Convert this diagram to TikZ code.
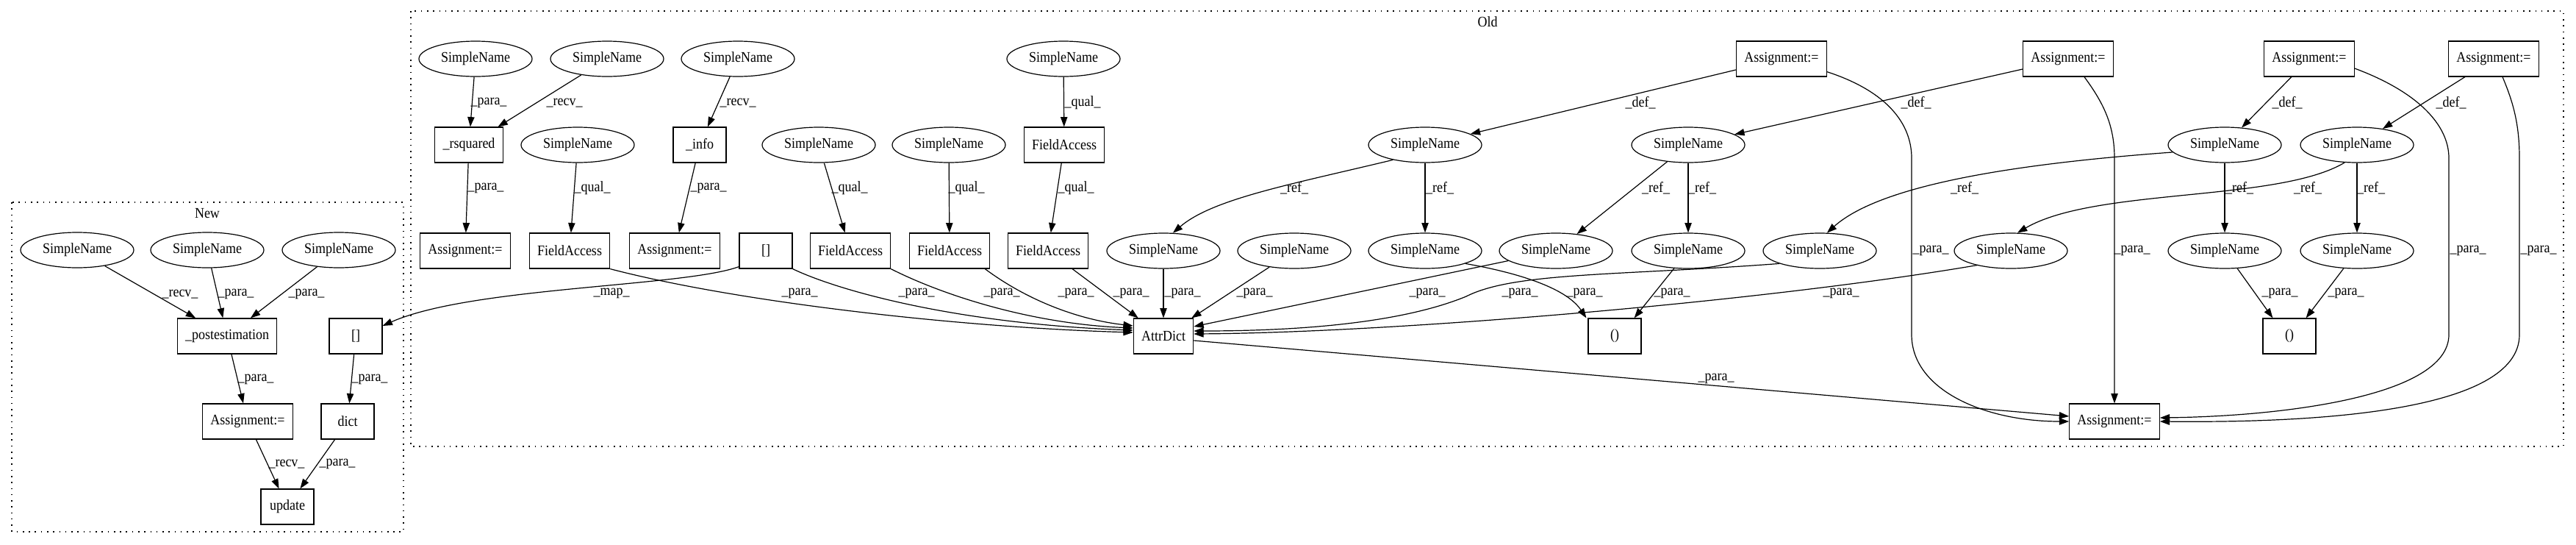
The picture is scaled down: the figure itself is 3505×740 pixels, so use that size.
\documentclass[tikz,border=0pt]{standalone}
\usepackage{fontspec}
\setmainfont{Liberation Serif}[FakeStretch=0.9]
\usetikzlibrary{shapes.geometric,arrows.meta,calc}
\begin{document}
\begin{tikzpicture}[x=0.75pt,y=-0.75pt,font=\fontsize{15}{17}\selectfont,
  sn/.style={ellipse,draw,line width=0.9pt,minimum width=115.5pt,minimum height=36pt,inner sep=0pt},
  bx/.style={rectangle,draw,line width=0.9pt,minimum width=54pt,minimum height=36pt,inner xsep=8pt,inner ysep=0pt},
  e/.style={draw,line width=0.9pt,-{Triangle[length=10pt,width=7pt]}},
  lb/.style={inner sep=0pt},
  cl/.style={draw,line width=1pt,dash pattern=on 1.2pt off 5pt}]
\useasboundingbox (0,0) rectangle (3505,740);
% clusters
\draw[cl] (16,275) rectangle (549,723);
\node[lb] (newlbl) at (282,290) {New};
\draw[cl] (559,15) rectangle (3488,607);
\node[lb] (oldlbl) at (2024,30) {Old};
% ---------- New ----------
\node[sn] (n_s1) at (105,340) {SimpleName};
\node[sn] (n_s2) at (282,340) {SimpleName};
\node[sn] (n_s3) at (461,340) {SimpleName};
\node[bx] (n_post) at (309,457) {\_postestimation};
\node[bx] (n_br) at (484,457) {[]};
\node[bx] (n_as) at (337,573) {Assignment:=};
\node[bx] (n_dict) at (473,573) {dict};
\node[bx] (n_upd) at (391,689) {update};
\draw[e] (n_s1) -- (n_post) node[lb,at={(245,400)}] (nl1) {\_recv\_};
\draw[e] (n_s2) -- (n_post) node[lb,at={(321,400)}] (nl2) {\_para\_};
\draw[e] (n_s3) -- (n_post) node[lb,at={(417,400)}] (nl3) {\_para\_};
\draw[e] (n_post) -- (n_as) node[lb,at={(348,516)}] (nl4) {\_para\_};
\draw[e] (n_br) -- (n_dict) node[lb,at={(503,516)}] (nl5) {\_para\_};
\draw[e] (n_as) -- (n_upd) node[lb,at={(390,631)}] (nl6) {\_recv\_};
\draw[e] (n_dict) -- (n_upd) node[lb,at={(459,631)}] (nl7) {\_para\_};
% ---------- Old nodes ----------
% row 1
\node[sn] (o_sa) at (647,80) {SimpleName};
\node[sn] (o_sb) at (826,80) {SimpleName};
\node[sn] (o_sc) at (1004,80) {SimpleName};
\node[sn] (o_sd) at (1447,80) {SimpleName};
\node[bx] (A1) at (2424,80) {Assignment:=};
\node[bx] (A2) at (2814,80) {Assignment:=};
\node[bx] (A3) at (3142,80) {Assignment:=};
\node[bx] (A4) at (3393,80) {Assignment:=};
% row 2
\node[bx] (o_rsq) at (638,197) {\_rsquared};
\node[sn] (o_se) at (786,197) {SimpleName};
\node[bx] (o_info) at (952,197) {\_info};
\node[sn] (o_sf) at (1114,197) {SimpleName};
\node[sn] (o_sg) at (1291,197) {SimpleName};
\node[bx] (o_fa0) at (1448,197) {FieldAccess};
\node[sn] (o_r1) at (1939,197) {SimpleName};
\node[sn] (o_r2) at (2297,197) {SimpleName};
\node[sn] (o_r3) at (3027,197) {SimpleName};
\node[sn] (o_r4) at (3207,197) {SimpleName};
% row 3
\node[bx] (o_as1) at (633,341) {Assignment:=};
\node[bx] (o_fa1) at (775,341) {FieldAccess};
\node[bx] (o_as2) at (918,341) {Assignment:=};
\node[bx] (o_br) at (1042,341) {[]};
\node[bx] (o_fa2) at (1157,341) {FieldAccess};
\node[bx] (o_fa3) at (1292,341) {FieldAccess};
\node[bx] (o_fa4) at (1426,341) {FieldAccess};
\node[sn] (o_t1) at (1583,341) {SimpleName};
\node[sn] (o_t2) at (1761,341) {SimpleName};
\node[sn] (o_t3) at (1939,341) {SimpleName};
\node[sn] (o_t4) at (2117,341) {SimpleName};
\node[sn] (o_t5) at (2297,341) {SimpleName};
\node[sn] (o_t6) at (2476,341) {SimpleName};
\node[sn] (o_t7) at (2736,341) {SimpleName};
\node[sn] (o_t8) at (3027,341) {SimpleName};
\node[sn] (o_t9) at (3207,341) {SimpleName};
% row 4/5
\node[bx] (o_ad) at (1583,457) {AttrDict};
\node[bx] (o_p1) at (2197,457) {()};
\node[bx] (o_p2) at (3115,457) {()};
\node[bx] (o_fin) at (2877,573) {Assignment:=};
% ---------- Old edges ----------
\draw[e] (o_sa) -- (o_rsq) node[lb,at={(665,140)}] (ol1) {\_para\_};
\draw[e] (o_sb) -- (o_rsq) node[lb,at={(768,140)}] (ol2) {\_recv\_};
\draw[e] (o_sc) -- (o_info) node[lb,at={(1004,140)}] (ol3) {\_recv\_};
\draw[e] (o_rsq) -- (o_as1) node[lb,at={(661,256)}] (ol4) {\_para\_};
\draw[e] (o_se) -- (o_fa1) node[lb,at={(806,256)}] (ol5) {\_qual\_};
\draw[e] (o_info) -- (o_as2) node[lb,at={(964,256)}] (ol6) {\_para\_};
\draw[e] (o_sf) -- (o_fa2) node[lb,at={(1156,256)}] (ol7) {\_qual\_};
\draw[e] (o_sd) -- (o_fa0) node[lb,at={(1473,140)}] (ol8) {\_qual\_};
\draw[e] (o_sg) -- (o_fa3) node[lb,at={(1315,256)}] (ol9) {\_qual\_};
\draw[e] (o_fa0) -- (o_fa4) node[lb,at={(1464,256)}] (ol10) {\_qual\_};
\draw[e] (A1) -- (o_r1) node[lb,at={(2232,140)}] (ol11) {\_def\_};
\draw[e] (A2) -- (o_r2) node[lb,at={(2607,140)}] (ol12) {\_def\_};
\draw[e] (A3) -- (o_r3) node[lb,at={(3112,140)}] (ol13) {\_def\_};
\draw[e] (A4) -- (o_r4) node[lb,at={(3335,140)}] (ol14) {\_def\_};
\draw[e] (o_r1.205) .. controls (1760,250) and (1650,270) .. (o_t1.62) node[lb,at={(1761,256)}] (ol15) {\_ref\_};
\draw[e] (o_r1) -- (o_t3) node[lb,at={(1959,256)}] (ol16) {\_ref\_};
\draw[e] (o_r2) -- (o_t4) node[lb,at={(2253,256)}] (ol17) {\_ref\_};
\draw[e] (o_r2) -- (o_t5) node[lb,at={(2316,256)}] (ol18) {\_ref\_};
\draw[e] (o_r3.188) .. controls (2750,222) and (2560,250) .. (o_t6.68) node[lb,at={(2673,256)}] (ol19) {\_ref\_};
\draw[e] (o_r3) -- (o_t8) node[lb,at={(3047,256)}] (ol20) {\_ref\_};
\draw[e] (o_r4.235) .. controls (3100,275) and (2850,255) .. (o_t7.70) node[lb,at={(3140,256)}] (ol21) {\_ref\_};
\draw[e] (o_r4) -- (o_t9) node[lb,at={(3226,256)}] (ol22) {\_ref\_};
% into final assignment
\draw[e] ($(A1.south east)+(0,-7)$) .. controls (2570,125) and (2601,170) .. (2601,215) -- (2601,455) .. controls (2601,530) and (2700,573) .. (o_fin.west) node[lb,at={(2627,341)}] (ol23) {\_para\_};
\draw[e] ($(A2.south)+(22,0)$) .. controls (2862,140) and (2877,170) .. (2877,215) -- (o_fin.north) node[lb,at={(2901,341)}] (ol24) {\_para\_};
\draw[e] ($(A3.east)+(0,13)$) .. controls (3290,125) and (3332,170) .. (3332,215) -- (3332,455) .. controls (3332,540) and (3100,566) .. ($(o_fin.east)+(0,-5)$) node[lb,at={(3358,341)}] (ol25) {\_para\_};
\draw[e] ($(A4.south)+(12,0)$) .. controls (3420,140) and (3428,170) .. (3428,215) -- (3428,455) .. controls (3428,560) and (3150,575) .. (o_fin.east) node[lb,at={(3454,341)}] (ol26) {\_para\_};
\draw[e] ($(o_ad.east)+(0,6)$) -- ($(o_fin.west)+(0,-7)$) node[lb,at={(2335,515)}] (ol27) {\_para\_};
% into AttrDict
\draw[e] (o_fa1.south east) .. controls (1000,410) and (1300,445) .. ($(o_ad.west)+(0,-5)$) node[lb,at={(1088,399)}] (ol28) {\_para\_};
\draw[e] (o_br.south east) .. controls (1140,395) and (1300,440) .. ($(o_ad.west)+(0,-8)$) node[lb,at={(1247,399)}] (ol29) {\_para\_};
\draw[e] (o_fa2.south east) .. controls (1280,400) and (1400,440) .. ($(o_ad.west)+(0,-11)$) node[lb,at={(1363,399)}] (ol30) {\_para\_};
\draw[e] ($(o_fa3.south east)+(-7,0)$) .. controls (1400,410) and (1470,435) .. ($(o_ad.west)+(0,-14)$) node[lb,at={(1464,399)}] (ol31) {\_para\_};
\draw[e] (o_fa4) -- ($(o_ad.north west)+(7,0)$) node[lb,at={(1539,399)}] (ol32) {\_para\_};
\draw[e] (o_t1) -- (o_ad) node[lb,at={(1609,399)}] (ol33) {\_para\_};
\draw[e] (o_t2) -- ($(o_ad.north east)+(-3,0)$) node[lb,at={(1707,399)}] (ol34) {\_para\_};
\draw[e] (o_t4) -- ($(o_ad.east)+(0,-13)$) node[lb,at={(1942,399)}] (ol35) {\_para\_};
\draw[e] (o_t6.south west) .. controls (2200,375) and (2060,370) .. (1995,403) .. controls (1900,442) and (1750,450) .. ($(o_ad.east)+(0,-7)$) node[lb,at={(2068,399)}] (ol36) {\_para\_};
\draw[e] ($(o_t7.south west)+(10,2)$) .. controls (2400,410) and (1900,452) .. ($(o_ad.east)+(0,-3)$) node[lb,at={(2505,399)}] (ol37) {\_para\_};
% into ()
\draw[e] (o_t3.south east) .. controls (2060,370) and (2130,390) .. ($(o_p1.north west)+(-2,0)$) node[lb,at={(2156,399)}] (ol38) {\_para\_};
\draw[e] (o_t5) -- ($(o_p1.north east)+(-10,0)$) node[lb,at={(2275,399)}] (ol39) {\_para\_};
\draw[e] (o_t8) -- ($(o_p2.north west)+(14,0)$) node[lb,at={(3102,399)}] (ol40) {\_para\_};
\draw[e] (o_t9) -- ($(o_p2.north east)+(-14,0)$) node[lb,at={(3192,399)}] (ol41) {\_para\_};
% map edge
\draw[e] ($(o_br.south west)+(0,-3)$) .. controls (930,390) and (640,390) .. ($(n_br.east)+(0,-14)$) node[lb,at={(832,399)}] (ol42) {\_map\_};
\end{tikzpicture}
\end{document}
